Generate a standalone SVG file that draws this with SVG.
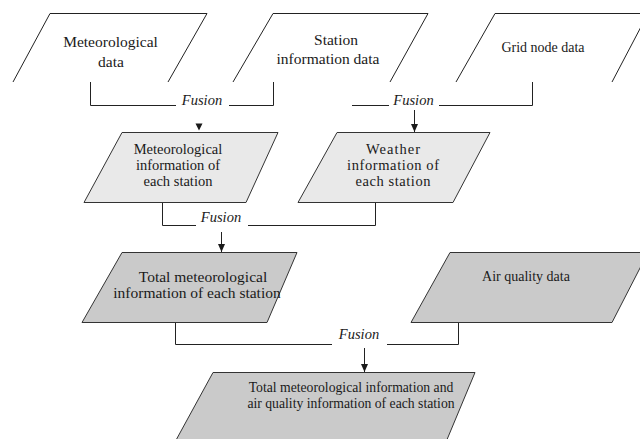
<svg xmlns="http://www.w3.org/2000/svg" width="640" height="439" viewBox="0 0 640 439">
<defs>
<marker id="ah" viewBox="0 0 8 8" refX="8" refY="4" markerWidth="8" markerHeight="8" markerUnits="userSpaceOnUse" orient="auto">
<path d="M0,0.5 L8,4 L0,7.5 Z" fill="#1a1a1a"/>
</marker>
<style>
.open{fill:none;stroke:#222;stroke-width:1}
.l1{fill:#e9e9e9;stroke:#333;stroke-width:1}
.l2{fill:#cacaca;stroke:#333;stroke-width:1}
.t{font-family:"Liberation Serif","Times New Roman",serif;fill:#1a1a1a;text-anchor:middle}
.f{font-family:"Liberation Serif","Times New Roman",serif;font-style:italic;font-size:14.5px;fill:#1a1a1a;text-anchor:middle}
.c{fill:none;stroke:#222;stroke-width:1}
</style>
</defs>
<rect width="640" height="439" fill="#ffffff"/>

<g id="connectors">
<path class="c" d="M90.5,82 V105.5 H176 M229,105.5 H273.5 V82"/>
<polygon points="195.5,123.5 202.5,123.5 199,130.5" fill="#1a1a1a"/>
<path class="c" d="M352,105.5 H389 M439,105.5 H532.5 V82"/>
<path class="c" d="M414.5,110 V132" marker-end="url(#ah)"/>
<path class="c" d="M162.5,202 V225.5 H196 M248,225.5 H375.5 V202"/>
<path class="c" d="M221.5,232 V252" marker-end="url(#ah)"/>
<path class="c" d="M175.5,322 V344.5 H332 M387,344.5 H458.5 V322"/>
<path class="c" d="M364.5,348 V372" marker-end="url(#ah)"/>
</g>

<g id="meteorological-data">
<polyline class="open" points="13,82 50,13.5 207,13.5 168,82"/>
<text class="t" font-size="15.5" x="110.5" y="47">Meteorological</text>
<text class="t" font-size="15.5" x="111" y="67">data</text>
</g>

<g id="station-information-data">
<polyline class="open" points="233,82 273,13.5 428,13.5 390,82"/>
<text class="t" font-size="15.5" x="336" y="45">Station</text>
<text class="t" font-size="15.5" x="328" y="64">information data</text>
</g>

<g id="grid-node-data">
<polyline class="open" points="456,82 495,13.5 648,13.5 612,82"/>
<text class="t" font-size="14" x="543" y="52">Grid node data</text>
</g>

<g id="meteorological-information">
<polygon class="l1" points="122,132.5 278,132.5 246,202.5 84,202.5"/>
<text class="t" font-size="14.5" x="178" y="154">Meteorological</text>
<text class="t" font-size="14.5" x="178" y="169.5">information of</text>
<text class="t" font-size="14.5" x="178" y="185.5">each station</text>
</g>

<g id="weather-information">
<polygon class="l1" points="337,132.5 490,132.5 453,202.5 298,202.5"/>
<text class="t" font-size="14.5" x="393" y="154" textLength="54">Weather</text>
<text class="t" font-size="14.5" x="393" y="169.5" textLength="92">information of</text>
<text class="t" font-size="14.5" x="393" y="185.5" textLength="75">each station</text>
</g>

<g id="total-meteorological-information">
<polygon class="l2" points="122,252.5 297,252.5 267,322.5 82,322.5"/>
<text class="t" font-size="15.5" x="203" y="282">Total meteorological</text>
<text class="t" font-size="15.5" x="197" y="298">information of each station</text>
</g>

<g id="air-quality-data">
<polygon class="l2" points="450,252.5 648,252.5 612,322.5 411,322.5"/>
<text class="t" font-size="14" x="526" y="281">Air quality data</text>
</g>

<g id="total-information">
<polygon class="l2" points="213,372.5 475,372.5 446,442 175,442"/>
<text class="t" font-size="13.7" x="351" y="392">Total meteorological information and</text>
<text class="t" font-size="13.7" x="351" y="408">air quality information of each station</text>
</g>

<g id="fusion-labels">
<text class="f" x="202" y="105">Fusion</text>
<text class="f" x="413.5" y="105">Fusion</text>
<text class="f" x="221" y="222">Fusion</text>
<text class="f" x="359" y="339">Fusion</text>
</g>
</svg>
